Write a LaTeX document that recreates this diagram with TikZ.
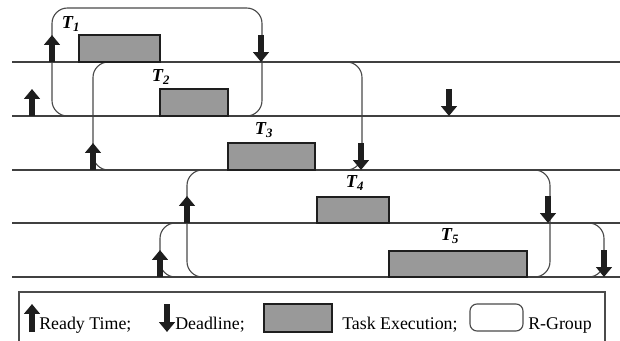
\documentclass[tikz,border=0pt]{standalone}
\usepackage{fontspec}
\setmainfont{Liberation Serif}
\usetikzlibrary{arrows.meta}
\definecolor{taskgray}{HTML}{999999}
\definecolor{ink}{HTML}{1E1E1E}
\definecolor{grpline}{HTML}{4A4A4A}
\tikzset{
  timeline/.style={line width=1.2pt, draw=ink!85},
  rgroup/.style={draw=grpline, line width=0.8pt, rounded corners=11pt},
  taskbox/.style={draw=ink, line width=0.8pt, fill=taskgray},
  ready/.style={draw=ink, line width=4.8pt, -{Triangle[length=7pt,width=11pt]}},
  dead/.style={ready},
  tlabel/.style={font=\fontsize{13}{15}\selectfont\bfseries\itshape, inner sep=0pt},
  legtext/.style={font=\fontsize{12.7}{15}\selectfont, inner sep=0pt, anchor=base west}
}
\begin{document}
\begin{tikzpicture}[x=0.025cm, y=-0.025cm]
    \useasboundingbox (0,0) rectangle (620,341);
    \clip (0,0) rectangle (620,341);

    % R-Groups first, the timelines go over their edges
    \draw[rgroup] (52,8) rectangle (262,116);
    \draw[rgroup] (93,62) rectangle (362,170);
    \draw[rgroup] (187,170) rectangle (550,277);
    \draw[rgroup] (160,223) rectangle (604,277);

    \foreach \y in {62,116,170,223,277}{% one timeline per task
      \draw[timeline] (12,\y) -- (620,\y);
    }

    \foreach \i/\xa/\xb/\yt/\yb/\lx/\ly in {1/79/160/35/62/71/24,
        2/160/228/89/116/161/77, 3/228/315/143/170/264/130,
        4/317/389/197/223/355/183, 5/389/527/251/277/450/236}{% task boxes
      \draw[taskbox] (\xa,\yt) rectangle (\xb,\yb);
      \node[tlabel] (T\i) at (\lx,\ly) {T\textsubscript{\i}};
    }

    \foreach \x/\yb in {52/62, 32/116, 93/170, 187/223, 160/277}{% ready times
      \draw[ready] (\x,\yb) -- (\x,\yb-27);
    }
    \foreach \x/\yb in {261/62, 449/116, 361/170, 548/223, 604/277}{% deadlines
      \draw[dead] (\x,\yb-27) -- (\x,\yb);
    }

    % legend
    \draw[line width=1pt, draw=ink!80] (19,292) rectangle (605,360);
    \draw[ready] (32,332) -- (32,304);
    \node[legtext] (readytxt) at (39,329) {Ready Time;};
    \draw[dead] (167,304) -- (167,332);
    \node[legtext] (deadtxt) at (175,329) {Deadline;};
    \draw[taskbox] (264,304) rectangle (332,332);
    \node[legtext] (exectxt) at (342,329) {Task Execution;};
    \draw[rgroup, rounded corners=5pt] (470,304) rectangle (523,331);
    \node[legtext] (grptxt) at (528,329) {R-Group};
\end{tikzpicture}
\end{document}
